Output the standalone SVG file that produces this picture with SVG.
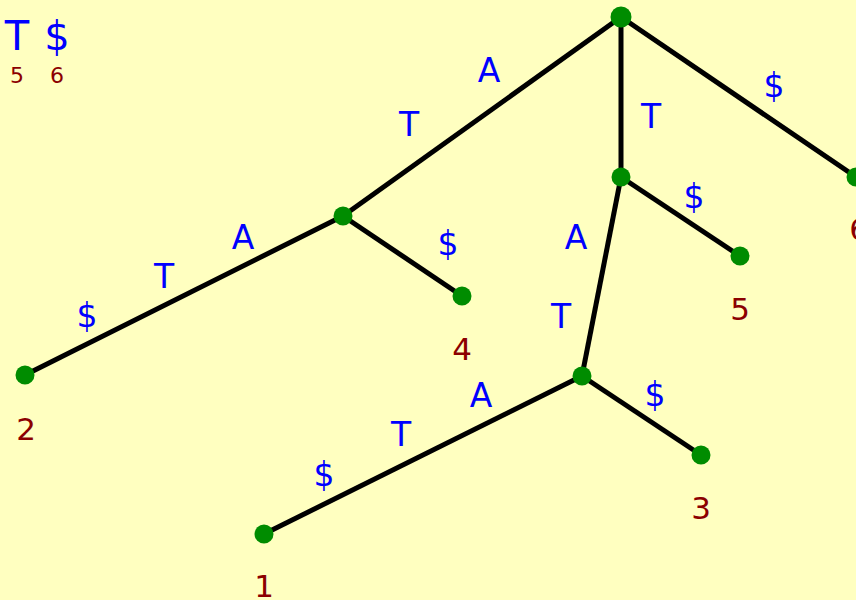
<svg xmlns="http://www.w3.org/2000/svg" width="856" height="600" viewBox="0 0 856 600">
<style>
.e{stroke:#000;stroke-width:5;fill:none}
.n{fill:#008c00}
.l{font-family:"DejaVu Sans","Liberation Sans",sans-serif;font-size:33px;fill:#0000ff;text-anchor:middle}
.k{font-family:"DejaVu Sans","Liberation Sans",sans-serif;font-size:31px;fill:#8b0000;text-anchor:middle}
.s{font-family:"DejaVu Sans","Liberation Sans",sans-serif;font-size:22px;fill:#8b0000;text-anchor:middle}
.b{font-family:"DejaVu Sans","Liberation Sans",sans-serif;font-size:40px;fill:#0000ff;text-anchor:middle}
</style>
<rect width="856" height="600" fill="#ffffc0"/>
<g id="connectors">
<line class="e" x1="621" y1="17" x2="343" y2="216"/>
<line class="e" x1="621" y1="17" x2="621" y2="177"/>
<line class="e" x1="621" y1="17" x2="856" y2="177"/>
<line class="e" x1="343" y1="216" x2="25" y2="375"/>
<line class="e" x1="343" y1="216" x2="462" y2="296"/>
<line class="e" x1="621" y1="177" x2="740" y2="256"/>
<line class="e" x1="621" y1="177" x2="582" y2="376"/>
<line class="e" x1="582" y1="376" x2="264" y2="534"/>
<line class="e" x1="582" y1="376" x2="701" y2="455"/>
</g>
<g id="edge-labels">
<text class="l" x="489" y="82">A</text>
<text class="l" x="409" y="136">T</text>
<text class="l" x="651" y="128">T</text>
<text class="l" x="774" y="97">$</text>
<text class="l" x="243" y="249">A</text>
<text class="l" x="164" y="288">T</text>
<text class="l" x="87" y="327">$</text>
<text class="l" x="448" y="255">$</text>
<text class="l" x="694" y="208">$</text>
<text class="l" x="576" y="249">A</text>
<text class="l" x="561" y="328">T</text>
<text class="l" x="481" y="407">A</text>
<text class="l" x="401" y="446">T</text>
<text class="l" x="324" y="486">$</text>
<text class="l" x="655" y="406">$</text>
</g>
<g id="root"><circle class="n" cx="621" cy="17" r="10.5"/></g>
<g id="nodeA"><circle class="n" cx="343" cy="216" r="9.5"/></g>
<g id="nodeT"><circle class="n" cx="621" cy="177" r="9.5"/></g>
<g id="nodeAT"><circle class="n" cx="582" cy="376" r="9.5"/></g>
<g id="leaf2"><circle class="n" cx="25" cy="375" r="9.5"/><text class="k" x="26" y="440">2</text></g>
<g id="leaf4"><circle class="n" cx="462" cy="296" r="9.5"/><text class="k" x="462" y="360">4</text></g>
<g id="leaf5"><circle class="n" cx="740" cy="256" r="9.5"/><text class="k" x="740" y="320">5</text></g>
<g id="leaf6"><circle class="n" cx="856" cy="177" r="9.5"/><text class="k" x="859" y="240">6</text></g>
<g id="leaf3"><circle class="n" cx="701" cy="455" r="9.5"/><text class="k" x="701" y="519">3</text></g>
<g id="leaf1"><circle class="n" cx="264" cy="534" r="9.5"/><text class="k" x="264" y="597">1</text></g>
<g id="legend">
<text class="b" x="17" y="50">T</text>
<text class="b" x="57" y="50">$</text>
<text class="s" x="17" y="83">5</text>
<text class="s" x="57" y="83">6</text>
</g>
</svg>
